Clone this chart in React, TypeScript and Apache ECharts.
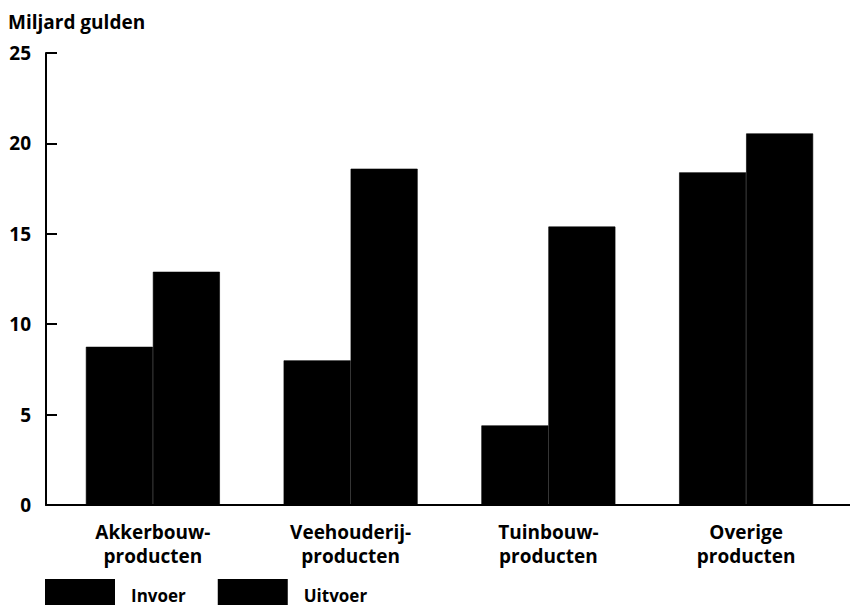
import React, { useEffect, useRef } from "react";
import * as echarts from "echarts";

const categories = ["Akkerbouw-\nproducten", "Veehouderij-\nproducten", "Tuinbouw-\nproducten", "Overige\nproducten"];
const invoer = [8.75, 8.0, 4.4, 18.4];
const uitvoer = [12.9, 18.6, 15.4, 20.55];
const seriesNames = ["Invoer", "Uitvoer"];
const yTitle = "Miljard gulden";

const FONT = "'Open Sans', sans-serif";

export default function App() {
  const ref = useRef<HTMLDivElement>(null);
  useEffect(() => {
    if (!ref.current) return;
    const chart = echarts.init(ref.current, null, { renderer: "svg" });
    chart.setOption({
      animation: false,
      backgroundColor: "#fff",
      textStyle: { fontFamily: FONT, color: "#000" },
      title: {
        text: yTitle,
        left: 8,
        top: 12,
        padding: 0,
        textStyle: { fontFamily: FONT, fontWeight: "bold", fontSize: 19, color: "#000" },
      },
      legend: {
        left: 45,
        top: 579,
        padding: 0,
        itemWidth: 68,
        itemHeight: 30,
        itemGap: 32,
        icon: "rect",
        data: seriesNames,
        textStyle: { fontFamily: FONT, fontWeight: "bold", fontSize: 17, color: "#000", padding: [8, 0, 0, 12] },
      },
      grid: [
        { left: 54, right: 5, top: 53, bottom: 100 },
        { left: 46, right: 0, top: 53, bottom: 100 },
      ],
      xAxis: [
        {
          type: "category",
          gridIndex: 0,
          data: categories,
          axisLine: { show: false },
          axisTick: { show: false },
          axisLabel: {
            fontFamily: FONT,
            fontWeight: "bold",
            fontSize: 19,
            color: "#000",
            lineHeight: 24,
            margin: 15,
            interval: 0,
          },
        },
        {
          type: "category",
          gridIndex: 1,
          data: [""],
          axisLine: { show: true, lineStyle: { color: "#000", width: 2 } },
          axisTick: { show: false },
          axisLabel: { show: false },
        },
      ],
      yAxis: [
        {
          type: "value",
          gridIndex: 0,
          min: 0,
          max: 25,
          interval: 5,
          offset: 8,
          axisLine: { show: true, lineStyle: { color: "#000", width: 2 } },
          axisTick: { show: true, inside: true, length: 11, lineStyle: { color: "#000", width: 2 } },
          splitLine: { show: false },
          axisLabel: {
            fontFamily: FONT,
            fontWeight: "bold",
            fontSize: 19,
            color: "#000",
            margin: 15,
          },
        },
        {
          type: "value",
          gridIndex: 1,
          show: false,
          min: 0,
          max: 1,
        },
      ],
      series: [
        {
          name: seriesNames[0],
          type: "bar",
          xAxisIndex: 0,
          yAxisIndex: 0,
          data: invoer,
          barWidth: 67,
          barGap: "0%",
          itemStyle: { color: "#000", borderColor: "#000", borderWidth: 0.6 },
        },
        {
          name: seriesNames[1],
          type: "bar",
          xAxisIndex: 0,
          yAxisIndex: 0,
          data: uitvoer,
          barWidth: 67,
          barGap: "0%",
          itemStyle: { color: "#000", borderColor: "#000", borderWidth: 0.6 },
        },
      ],
    });
    return () => chart.dispose();
  }, []);
  return (
    <div
      ref={ref}
      style={{ position: "fixed", left: 0, top: 0, width: 850, height: 605, background: "#fff" }}
    />
  );
}
